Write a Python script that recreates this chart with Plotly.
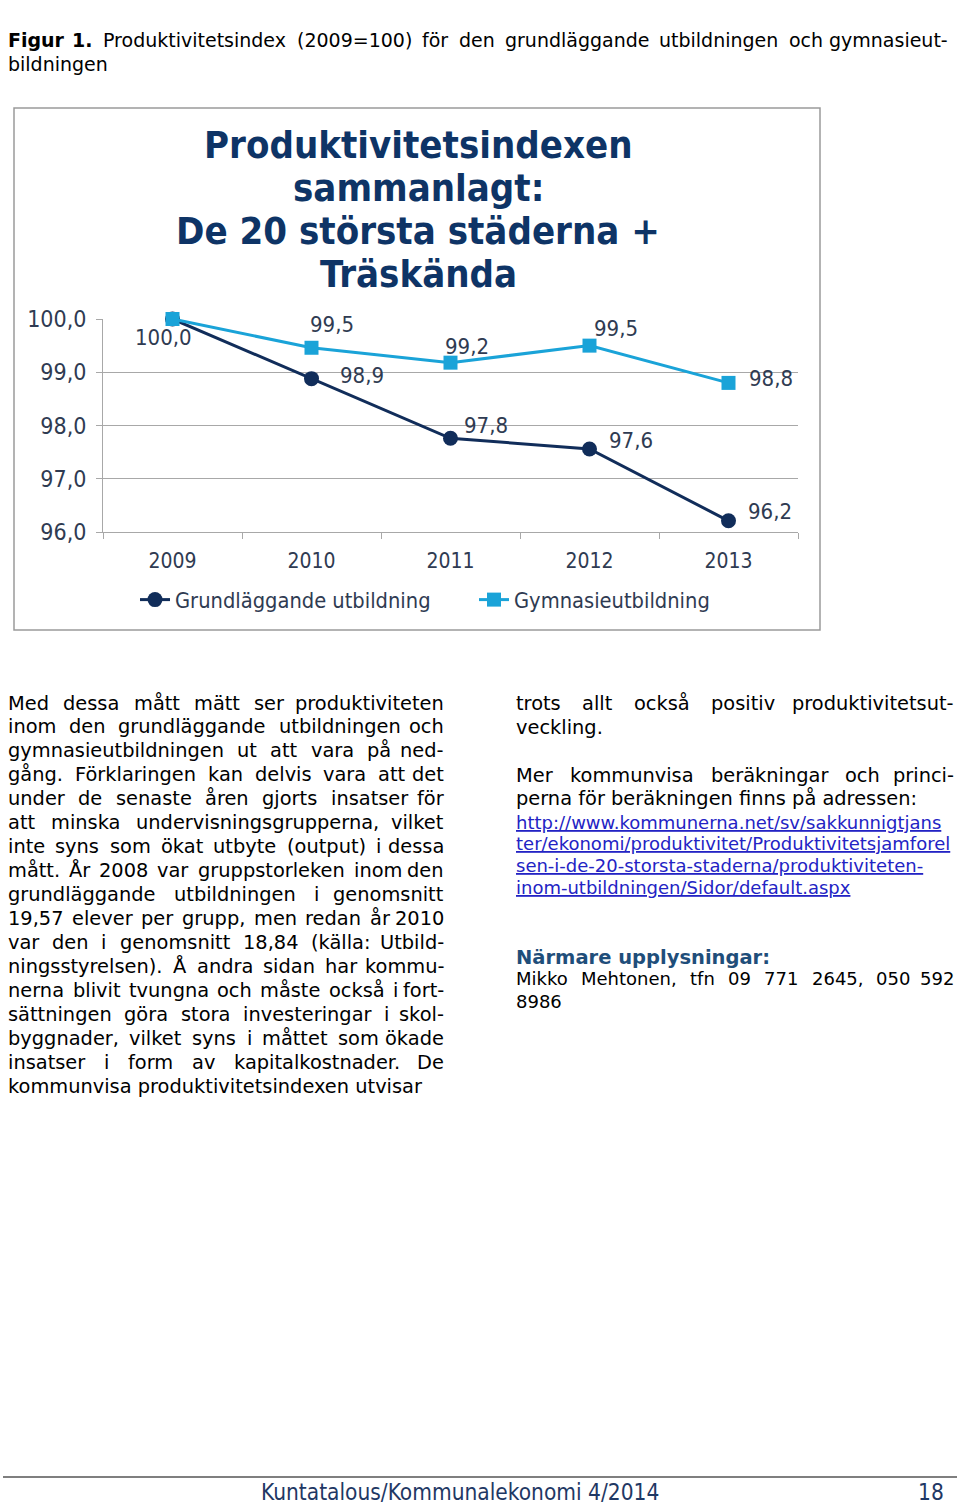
import plotly.graph_objects as go

# ---------------- data ----------------
years = ["2009", "2010", "2011", "2012", "2013"]
grund = [100.0, 98.88, 97.76, 97.56, 96.21]
gymn = [100.0, 99.46, 99.18, 99.50, 98.80]
grund_name = "Grundläggande utbildning"
gymn_name = "Gymnasieutbildning"
y_ticks = [96, 97, 98, 99, 100]
y_range = [96, 100]

chart_title_lines = ["Produktivitetsindexen", "sammanlagt:",
                     "De 20 största städerna +", "Träskända"]

caption_line1 = "Figur 1. Produktivitetsindex (2009=100) för den grundläggande utbildningen och gymnasieut-"
caption_line2 = "bildningen"

left_lines = [
    "Med dessa mått mätt ser produktiviteten",
    "inom den grundläggande utbildningen och",
    "gymnasieutbildningen ut att vara på ned-",
    "gång. Förklaringen kan delvis vara att det",
    "under de senaste åren gjorts insatser för",
    "att minska undervisningsgrupperna, vilket",
    "inte syns som ökat utbyte (output) i dessa",
    "mått. År 2008 var gruppstorleken inom den",
    "grundläggande utbildningen i genomsnitt",
    "19,57 elever per grupp, men redan år 2010",
    "var den i genomsnitt 18,84 (källa: Utbild-",
    "ningsstyrelsen). Å andra sidan har kommu-",
    "nerna blivit tvungna och måste också i fort-",
    "sättningen göra stora investeringar i skol-",
    "byggnader, vilket syns i måttet som ökade",
    "insatser i form av kapitalkostnader. De",
    "kommunvisa produktivitetsindexen utvisar",
]
right_par1 = ["trots allt också positiv produktivitetsut-", "veckling."]
right_par2 = ["Mer kommunvisa beräkningar och princi-",
              "perna för beräkningen finns på adressen:"]
link_lines = ["http://www.kommunerna.net/sv/sakkunnigtjans",
              "ter/ekonomi/produktivitet/Produktivitetsjamforel",
              "sen-i-de-20-storsta-staderna/produktiviteten-",
              "inom-utbildningen/Sidor/default.aspx"]
contact_head = "Närmare upplysningar:"
contact_lines = ["Mikko Mehtonen, tfn 09 771 2645, 050 592", "8986"]
footer_text = "Kuntatalous/Kommunalekonomi 4/2014"
page_number = "18"

# ---------------- style ----------------
W, H = 960, 1505
NAVY = "#112d5a"
CYAN = "#1aa3d8"
GRAY_TXT = "#2f3b52"
TITLE_COL = "#0e3466"
AXIS_COL = "#a8a8a8"
CHART_FONT = "DejaVu Sans Condensed, Liberation Sans Narrow, sans-serif"
BODY_FONT = "DejaVu Sans, Verdana, sans-serif"

grund_label_off = [(-9, -19), (50, 3), (35, 13), (41, 8), (41, 9)]
gymn_label_off = [None, (20, 23), (16, 16), (26, 17), (42, 4)]


def px(x):
    return x / W


def py(y):
    return 1 - y / H


CW = {
    'a': .613, 'b': .635, 'c': .550, 'd': .635, 'e': .615, 'f': .352, 'g': .635,
    'h': .634, 'i': .278, 'j': .278, 'k': .579, 'l': .278, 'm': .974, 'n': .634,
    'o': .612, 'p': .635, 'q': .635, 'r': .411, 's': .521, 't': .392, 'u': .634,
    'v': .592, 'w': .818, 'x': .592, 'y': .592, 'z': .525, 'å': .613, 'ä': .613,
    'ö': .612, 'A': .684, 'B': .686, 'C': .698, 'D': .770, 'E': .632, 'F': .575,
    'G': .775, 'H': .752, 'I': .295, 'J': .295, 'K': .656, 'L': .557, 'M': .863,
    'N': .748, 'O': .787, 'P': .603, 'Q': .787, 'R': .695, 'S': .635, 'T': .611,
    'U': .732, 'V': .684, 'W': .989, 'X': .685, 'Y': .611, 'Z': .685, 'Å': .684,
    'Ä': .684, 'Ö': .787, ' ': .318, '.': .318, ',': .318, ':': .337, ';': .337,
    '-': .361, '(': .390, ')': .390, '/': .337, '=': .838,
}
for d in "0123456789":
    CW[d] = .636


def tw(s, size, bold=False):
    return sum(CW.get(c, .6) for c in s) * size * (1.12 if bold else 1.0)


annotations = []


def add_text(text, x, y, size, color="#000000", family=BODY_FONT, anchor="left"):
    annotations.append(dict(text=text, x=px(x), y=py(y), xref="paper", yref="paper",
                            xanchor=anchor, yanchor="middle", showarrow=False,
                            font=dict(size=size, color=color, family=family)))


def add_justified(line, x0, x1, y, size, bold_words=0, color="#000000"):
    words = line.split(" ")
    if len(words) == 1:
        add_text(line, x0, y, size, color)
        return
    widths = [tw(w, size, i < bold_words) for i, w in enumerate(words)]
    gap = (x1 - x0 - sum(widths)) / (len(words) - 1)
    xc = x0
    for i, w in enumerate(words):
        t = f"<b>{w}</b>" if i < bold_words else w
        if i == len(words) - 1:
            add_text(t, x1, y, size, color, anchor="right")
        else:
            add_text(t, xc, y, size, color)
        xc += widths[i] + gap


# caption
add_justified(caption_line1, 6, 950, 40, 19, bold_words=2)
add_text(caption_line2, 6, 64, 19)

# left column
for k, line in enumerate(left_lines):
    yy = 703 + 23.95 * k
    if k < len(left_lines) - 1:
        add_justified(line, 6, 446, yy, 19.4)
    else:
        add_text(line, 6, yy, 19.4)

# right column
add_justified(right_par1[0], 514, 956, 703, 19.4)
add_text(right_par1[1], 514, 727, 19.4)
add_justified(right_par2[0], 514, 956, 775, 19.4)
add_text(right_par2[1], 514, 799, 19.4)
for k, line in enumerate(link_lines):
    add_text(f"<u>{line}</u>", 514, 822 + 21.7 * k, 18, color="#2323c4")
add_text(f"<b>{contact_head}</b>", 514, 957, 19.5, color="#1f4e7a")
add_justified(contact_lines[0], 514, 956, 979, 18)
add_text(contact_lines[1], 514, 1001, 18)

# footer
add_text(footer_text, 460, 1492, 22.5, color="#1f3864", family=CHART_FONT, anchor="center")
add_text(page_number, 946, 1492, 22.5, color="#1f3864", family=CHART_FONT, anchor="right")

# chart title
for k, line in enumerate(chart_title_lines):
    annotations.append(dict(text=f"<b>{line}</b>", x=px(418), y=py(145 + 43 * k),
                            xref="paper", yref="paper", xanchor="center", yanchor="middle",
                            showarrow=False,
                            font=dict(size=38, color=TITLE_COL, family=CHART_FONT)))


def fmt(v):
    return f"{v:.1f}".replace(".", ",")


# data labels (x given as category index)
for series, offs in ((grund, grund_label_off), (gymn, gymn_label_off)):
    for i, v in enumerate(series):
        if offs[i] is None:
            continue
        annotations.append(dict(text=fmt(v), x=i, y=v, xref="x", yref="y",
                                xshift=offs[i][0], yshift=offs[i][1], showarrow=False,
                                xanchor="center", yanchor="middle",
                                font=dict(size=22, color=GRAY_TXT, family=CHART_FONT)))

fig = go.Figure()
fig.add_trace(go.Scatter(x=years, y=grund, name=grund_name, mode="lines+markers",
                         line=dict(color=NAVY, width=3),
                         marker=dict(symbol="circle", size=15, color=NAVY),
                         cliponaxis=False))
fig.add_trace(go.Scatter(x=years, y=gymn, name=gymn_name, mode="lines+markers",
                         line=dict(color=CYAN, width=3),
                         marker=dict(symbol="square", size=14, color=CYAN),
                         cliponaxis=False))

shapes = [
    dict(type="rect", xref="paper", yref="paper", x0=px(14), x1=px(820),
         y0=py(630), y1=py(108), line=dict(color="#9a9a9a", width=1.5)),
    dict(type="line", xref="paper", yref="paper", x0=px(3), x1=px(957),
         y0=py(1477), y1=py(1477), line=dict(color="#000000", width=1.2)),
]

fig.update_layout(
    width=W, height=H,
    margin=dict(l=0, r=0, t=0, b=0, pad=0, autoexpand=False),
    paper_bgcolor="white", plot_bgcolor="white",
    separators=", ",
    showlegend=True,
    legend=dict(orientation="h", x=px(135), y=py(600), xanchor="left", yanchor="middle",
                font=dict(size=21.7, color=GRAY_TXT, family=CHART_FONT),
                entrywidth=294, entrywidthmode="pixels", bgcolor="rgba(0,0,0,0)"),
    annotations=annotations,
    shapes=shapes,
    xaxis=dict(domain=[px(103), px(798)], type="category", range=[-0.5, 4.5],
               showgrid=False, showline=True, linecolor=AXIS_COL, linewidth=1,
               ticks="outside", tickson="boundaries", ticklen=6, tickcolor=AXIS_COL,
               tickfont=dict(size=21, color=GRAY_TXT, family=CHART_FONT),
               ticklabelstandoff=10, anchor="y", automargin=False),
    yaxis=dict(domain=[py(532), py(319)], range=y_range, tickvals=y_ticks,
               tickformat=".1f", showgrid=True, gridcolor=AXIS_COL, gridwidth=1,
               showline=True, linecolor=AXIS_COL, linewidth=1,
               ticks="outside", ticklen=6, tickcolor=AXIS_COL,
               tickfont=dict(size=23, color=GRAY_TXT, family=CHART_FONT),
               ticklabelstandoff=5,
               zeroline=False, anchor="x", automargin=False),
)

fig.write_html("out.html", config={"displayModeBar": False},
               post_script="document.body.style.margin='0';")
